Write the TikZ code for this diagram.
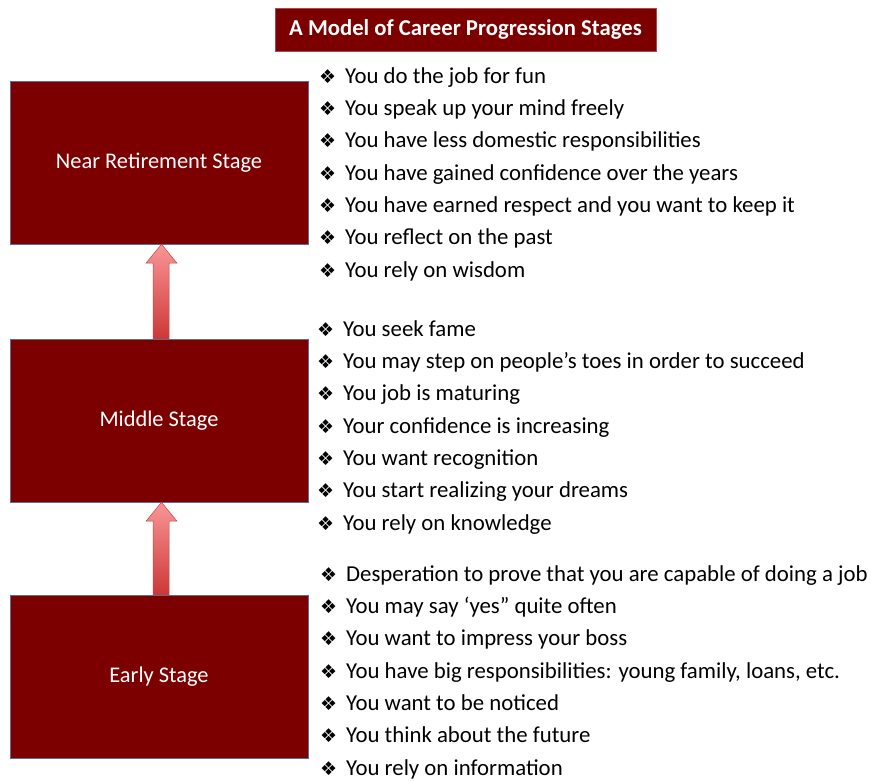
\documentclass[tikz,border=0pt]{standalone}
\usepackage{fontspec}
\setmainfont{Carlito}
\newfontfamily\symfont{DejaVu Sans}
\usetikzlibrary{calc,shadows}
\definecolor{boxred}{RGB}{124,0,0}
\definecolor{boxedge}{RGB}{90,110,150}
\definecolor{arrtop}{RGB}{250,150,150}
\definecolor{arrbot}{RGB}{205,55,55}
\definecolor{arredge}{RGB}{195,70,70}
\newcommand\bul{\makebox[26pt][l]{\symfont\fontsize{19}{19}\selectfont ❖}}
\tikzset{
  stagebox/.style={fill=boxred, draw=boxedge, line width=0.4pt, minimum width=298pt, minimum height=163pt,
    text=white, font=\fontsize{22.4}{26}\selectfont, inner sep=0pt,
    drop shadow={shadow xshift=1.2pt, shadow yshift=-1.5pt, opacity=0.35}},
  titlebox/.style={fill=boxred, draw=boxred!70!white, line width=0.5pt, minimum width=381pt, minimum height=43pt,
    text=white, font=\fontsize{22.7}{26}\selectfont\bfseries, inner sep=0pt},
  listnode/.style={anchor=north west, align=left, inner sep=0pt, font=\fontsize{22.8}{32.33}\selectfont, text=black},
  uparr/.style={top color=arrtop, bottom color=arrbot, draw=arredge, line width=0.5pt, line join=miter}
}
\newcommand\stagearrow[2]{%
  \draw[uparr] ($(#1.north)+(-6,0)$) -- ($(#2.south)+(-6,-19)$) -- ($(#2.south)+(-13,-19)$)
    -- ($(#2.south)+(2.5,0)$) -- ($(#2.south)+(18,-19)$) -- ($(#2.south)+(10,-19)$)
    -- ($(#1.north)+(10,0)$) -- cycle;}
\begin{document}
\begin{tikzpicture}[x=1pt,y=1pt]
\useasboundingbox (0,0) rectangle (871,781);
\node[titlebox] (title) at (465.5,751.5) {A Model of Career Progression Stages};
\node[stagebox] (near) at (159,618.5) {Near Retirement Stage};
\node[stagebox] (mid) at (159,360.5) {Middle Stage};
\node[stagebox] (early) at (159,104.5) {Early Stage};
\stagearrow{mid}{near}
\stagearrow{early}{mid}
\node[listnode] (l1) at (319,714) {%
\bul You do the job for fun\\
\bul You speak up your mind freely\\
\bul You have less domestic responsibilities\\
\bul You have gained confidence over the years\\
\bul You have earned respect and you want to keep it\\
\bul You reflect on the past\\
\bul You rely on wisdom};
\node[listnode] (l2) at (317,461) {%
\bul You seek fame\\
\bul You may step on people’s toes in order to succeed\\
\bul You job is maturing\\
\bul Your confidence is increasing\\
\bul You want recognition\\
\bul You start realizing your dreams\\
\bul You rely on knowledge};
\node[listnode] (l3) at (320,216) {%
\bul Desperation to prove that you are capable of doing a job\\
\bul You may say ‘yes” quite often\\
\bul You want to impress your boss\\
\bul You have big responsibilities: young family, loans, etc.\\
\bul You want to be noticed\\
\bul You think about the future\\
\bul You rely on information};
\end{tikzpicture}
\end{document}
